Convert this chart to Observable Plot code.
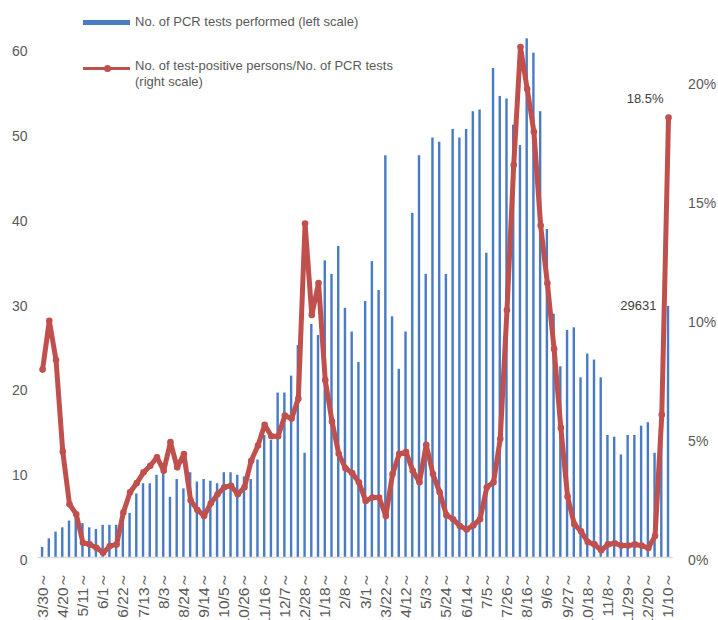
<!DOCTYPE html>
<html><head><meta charset="utf-8">
<script src="https://cdn.jsdelivr.net/npm/d3@7"></script>
<script src="https://cdn.jsdelivr.net/npm/@observablehq/plot@0.6"></script>
<style>
body{margin:0;background:#fff;font-family:"Liberation Sans",Arial,sans-serif;}
#wrap{position:relative;width:718px;height:620px;overflow:hidden;}
#wrap svg{position:absolute;left:0;top:0;}
.lg{position:absolute;font-size:13px;line-height:16px;color:#595959;white-space:nowrap;}
.sw{position:absolute;}
</style></head><body><div id="wrap">
<div class="sw" style="left:83px;top:19.5px;width:47px;height:5.5px;background:#4a7cc4"></div>
<div class="lg" style="left:135px;top:14px">No. of PCR tests performed (left scale)</div>
<div class="sw" style="left:83px;top:66.5px;width:47px;height:3px;background:#c0504d"></div>
<div class="sw" style="left:103.5px;top:64.5px;width:7px;height:7px;border-radius:50%;background:#c0504d"></div>
<div class="lg" style="left:135px;top:58px">No. of test-positive persons/No. of PCR tests<br>(right scale)</div>
</div>
<script>
const tickLabels = ["3/30","4/20","5/11","6/1","6/22","7/13","8/3","8/24","9/14","10/5","10/26","11/16","12/7","12/28","1/18","2/8","3/1","3/22","4/12","5/3","5/24","6/14","7/5","7/26","8/16","9/6","9/27","10/18","11/8","11/29","12/20","1/10"];
// PCR tests performed per week (thousands, left scale)
const tests = [1.2,2.2,3.0,3.5,4.3,5.0,4.0,3.5,3.3,3.8,3.8,3.8,5.2,5.2,7.5,8.7,8.7,9.7,9.9,7.1,
  9.2,8.1,10.0,8.9,9.2,9.0,8.7,10.0,10.0,9.7,9.5,9.2,11.5,14.4,13.8,19.4,19.4,21.4,25.0,12.3,
  27.5,26.2,35.0,33.4,36.7,29.4,26.6,23.0,30.2,34.9,31.5,47.4,28.4,22.2,26.6,40.6,47.4,33.4,49.5,49.0,
  33.4,50.5,49.5,50.5,52.6,52.8,35.9,57.7,54.4,54.1,51.0,48.6,61.2,59.5,52.6,38.7,28.7,22.5,26.8,27.1,
  21.2,24.0,23.3,21.2,14.4,14.2,12.1,14.4,14.4,15.5,15.9,12.3,17.0,29.631];
// test-positive persons / PCR tests (%, right scale)
const positivity = [7.9,9.95,8.3,4.45,2.24,1.82,0.62,0.55,0.41,0.2,0.48,0.55,1.89,2.74,3.13,3.58,3.86,4.21,3.65,4.85,
  3.79,4.35,2.4,2.0,1.75,2.28,2.66,2.95,3.02,2.66,2.95,4.07,4.71,5.58,5.1,5.1,5.97,5.84,6.68,14.04,
  10.2,11.54,7.45,5.72,4.36,3.75,3.55,3.16,2.38,2.52,2.52,1.75,3.51,4.36,4.43,3.65,3.16,4.74,3.51,2.74,
  1.78,1.61,1.32,1.18,1.35,1.61,2.95,3.16,4.99,10.4,16.5,21.46,19.7,17.9,13.96,11.53,8.77,5.45,2.56,1.4,
  1.1,0.65,0.55,0.3,0.55,0.6,0.5,0.5,0.55,0.5,0.4,0.9,6.0,18.5];
const leftTicks = [0,10,20,30,40,50,60];
const rightTicks = [0,5,10,15,20];
const pctToLeft = 2.806; // left-scale units per 1 % on the right scale

const weeks = tests.map((_, i) => i);
const rows = weeks.map(i => ({week: i, tests: tests[i], pct: positivity[i]}));
const tickWeeks = tickLabels.map((_, k) => k * 3);
const last = rows[rows.length - 1];

const chart = Plot.plot({
  width: 718, height: 620,
  marginLeft: 37.5, marginRight: 45.4, marginTop: 31.5, marginBottom: 63,
  style: {fontFamily: "'Liberation Sans', Arial, sans-serif", color: "#595959", background: "transparent", overflow: "visible"},
  x: {type: "band", domain: weeks, paddingInner: 0.64, paddingOuter: 0.5, axis: null},
  y: {domain: [0, 62], axis: null},
  marks: [
    Plot.barY(rows, {x: "week", y: "tests", fill: "#4a7cc4"}),
    Plot.ruleY([0], {stroke: "#d9d9d9", strokeWidth: 1.5}),
    Plot.axisY({ticks: leftTicks, anchor: "left", tickSize: 0, tickPadding: 10.5, fontSize: 14, dy: 3, fill: "#595959", label: null}),
    Plot.axisY({ticks: rightTicks.map(t => t * pctToLeft), anchor: "right", tickSize: 0, tickPadding: 15, fontSize: 14, dy: 3, fill: "#595959", label: null,
      tickFormat: d => Math.round(d / pctToLeft) + "%"}),
    Plot.axisX({ticks: tickWeeks, anchor: "bottom", tickSize: 0, tickPadding: 14, tickRotate: -90, fontSize: 15.5, fill: "#595959", label: null,
      tickFormat: d => tickLabels[d / 3] + "～"}),
    Plot.line(rows, {x: "week", y: d => d.pct * pctToLeft, stroke: "#c0504d", strokeWidth: 5}),
    Plot.dot(rows, {x: "week", y: d => d.pct * pctToLeft, r: 3.3, fill: "#c0504d"}),
    Plot.text([last], {x: "week", y: d => d.pct * pctToLeft, text: d => d.pct + "%", textAnchor: "end", dx: -5, dy: -19, fontSize: 13, fill: "#404040"}),
    Plot.text([last], {x: "week", y: "tests", text: d => String(Math.round(d.tests * 1000)), textAnchor: "end", dx: -12, dy: -1, fontSize: 13, fill: "#404040"})
  ]
});
document.getElementById("wrap").prepend(chart);
</script>
</body></html>
